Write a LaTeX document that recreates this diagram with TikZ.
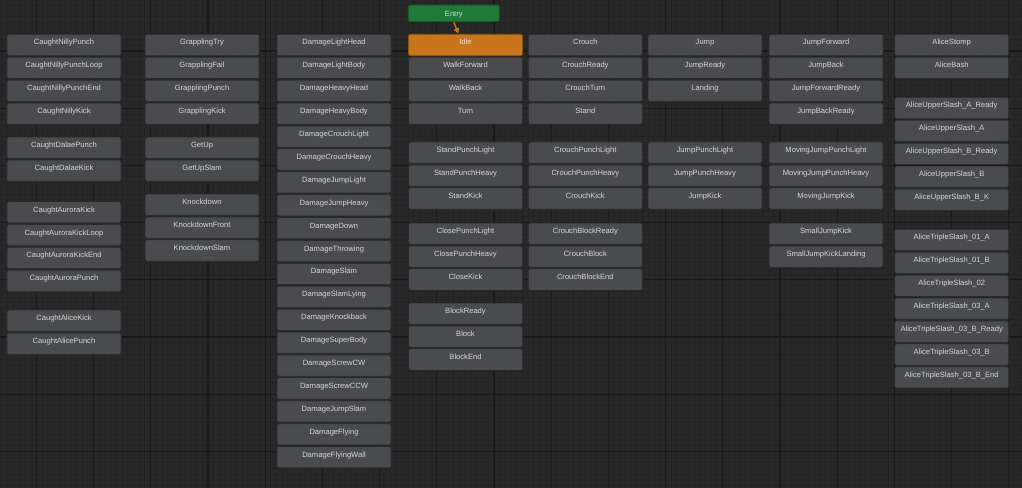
\documentclass[tikz,border=0pt]{standalone}
\usepackage{fontspec}
\setmainfont{Liberation Sans}
\usetikzlibrary{arrows.meta}
\definecolor{bgc}{HTML}{282828}
\definecolor{minorc}{HTML}{232323}
\definecolor{majorc}{HTML}{1A1A1A}
\definecolor{nodefill}{HTML}{4A4B4E}
\definecolor{nodeedge}{HTML}{2C2C2E}
\definecolor{nodetext}{HTML}{D6D6D6}
\definecolor{idlefill}{HTML}{C8761E}
\definecolor{idletext}{HTML}{F2E2D0}
\definecolor{entryfill}{HTML}{1E7B37}
\definecolor{entrytext}{HTML}{C4E4CA}
\definecolor{arrowc}{HTML}{C47A1A}
\begin{document}
\begin{tikzpicture}[x=0.75pt,y=-0.75pt,
  st/.style={draw=nodeedge, fill=nodefill, rounded corners=1.5pt, line width=0.6pt,
    minimum width=85.5pt, minimum height=16pt, inner sep=0pt, text=nodetext,
    font=\fontsize{5.7}{6}\selectfont, text height=5pt, text depth=5pt},
  idlestyle/.style={st, fill=idlefill, draw=idlefill!70!black, text=idletext},
  entrystyle/.style={draw=entryfill!70!black, fill=entryfill, rounded corners=1.5pt, line width=0.6pt,
    minimum width=68.25pt, minimum height=12.5pt, inner sep=0pt, text=entrytext,
    font=\fontsize{5.7}{6}\selectfont, text height=4.1pt, text depth=0pt},
  minorline/.style={draw=minorc, line width=0.75pt},
  majorline/.style={draw=majorc, line width=0.9pt}]
\fill[bgc] (0,0) rectangle (1022,488);
\useasboundingbox (0,0) rectangle (1022,488);
% grid
\foreach \x in {1.98,7.70,...,1022} \draw[minorline] (\x,0) -- (\x,488);
\foreach \y in {5.34,11.06,...,488} \draw[minorline] (0,\y) -- (1022,\y);
\foreach \x in {36.3,93.5,...,1022} \draw[majorline] (\x,0) -- (\x,488);
\foreach \y in {51.1,108.3,...,488} \draw[majorline] (0,\y) -- (1022,\y);

% column 1
\foreach[count=\i from 0] \t in {CaughtNillyPunch,CaughtNillyPunchLoop,CaughtNillyPunchEnd,CaughtNillyKick}
  \node[st] (ca\i) at (64,{45+\i*22.9}) {\t};
\foreach[count=\i from 0] \t in {CaughtDalaePunch,CaughtDalaeKick}
  \node[st] (cb\i) at (64,{147.7+\i*22.9}) {\t};
\foreach[count=\i from 0] \t in {CaughtAuroraKick,CaughtAuroraKickLoop,CaughtAuroraKickEnd,CaughtAuroraPunch}
  \node[st] (cc\i) at (64,{212.2+\i*22.9}) {\t};
\foreach[count=\i from 0] \t in {CaughtAliceKick,CaughtAlicePunch}
  \node[st] (cd\i) at (64,{320.7+\i*22.9}) {\t};

% column 2
\foreach[count=\i from 0] \t in {GrapplingTry,GrapplingFail,GrapplingPunch,GrapplingKick}
  \node[st] (ga\i) at (202,{45+\i*22.9}) {\t};
\foreach[count=\i from 0] \t in {GetUp,GetUpSlam}
  \node[st] (gb\i) at (202,{147.7+\i*22.9}) {\t};
\foreach[count=\i from 0] \t in {Knockdown,KnockdownFront,KnockdownSlam}
  \node[st] (gc\i) at (202,{204.7+\i*22.9}) {\t};

% column 3
\foreach[count=\i from 0] \t in {DamageLightHead,DamageLightBody,DamageHeavyHead,DamageHeavyBody,DamageCrouchLight,DamageCrouchHeavy,DamageJumpLight,DamageJumpHeavy,DamageDown,DamageThrowing,DamageSlam,DamageSlamLying,DamageKnockback,DamageSuperBody,DamageScrewCW,DamageScrewCCW,DamageJumpSlam,DamageFlying,DamageFlyingWall}
  \node[st] (da\i) at (334,{45+\i*22.9}) {\t};

% column 4
\node[entrystyle] (entry) at (453.8,13.35) {Entry};
\node[idlestyle] (idle) at (465.5,45) {Idle};
\foreach[count=\i from 1] \t in {WalkForward,WalkBack,Turn}
  \node[st] (ia\i) at (465.5,{45+\i*22.9}) {\t};
\foreach[count=\i from 0] \t in {StandPunchLight,StandPunchHeavy,StandKick}
  \node[st] (ib\i) at (465.5,{152.7+\i*22.9}) {\t};
\foreach[count=\i from 0] \t in {ClosePunchLight,ClosePunchHeavy,CloseKick}
  \node[st] (ic\i) at (465.5,{233.7+\i*22.9}) {\t};
\foreach[count=\i from 0] \t in {BlockReady,Block,BlockEnd}
  \node[st] (id\i) at (465.5,{313.7+\i*22.9}) {\t};
\coordinate (idletip) at (458.3,33.6);
\draw[arrowc, line width=1pt, -{Triangle[length=4pt,width=4pt]}] (entry.south) -- (idletip);

% column 5
\foreach[count=\i from 0] \t in {Crouch,CrouchReady,CrouchTurn,Stand}
  \node[st] (ra\i) at (585.3,{45+\i*22.9}) {\t};
\foreach[count=\i from 0] \t in {CrouchPunchLight,CrouchPunchHeavy,CrouchKick}
  \node[st] (rb\i) at (585.3,{152.7+\i*22.9}) {\t};
\foreach[count=\i from 0] \t in {CrouchBlockReady,CrouchBlock,CrouchBlockEnd}
  \node[st] (rc\i) at (585.3,{233.7+\i*22.9}) {\t};

% column 6
\foreach[count=\i from 0] \t in {Jump,JumpReady,Landing}
  \node[st] (ja\i) at (705,{45+\i*22.9}) {\t};
\foreach[count=\i from 0] \t in {JumpPunchLight,JumpPunchHeavy,JumpKick}
  \node[st] (jb\i) at (705,{152.7+\i*22.9}) {\t};

% column 7
\foreach[count=\i from 0] \t in {JumpForward,JumpBack,JumpForwardReady,JumpBackReady}
  \node[st] (fa\i) at (826,{45+\i*22.9}) {\t};
\foreach[count=\i from 0] \t in {MovingJumpPunchLight,MovingJumpPunchHeavy,MovingJumpKick}
  \node[st] (fb\i) at (826,{152.7+\i*22.9}) {\t};
\foreach[count=\i from 0] \t in {SmallJumpKick,SmallJumpKickLanding}
  \node[st] (fc\i) at (826,{233.7+\i*22.9}) {\t};

% column 8
\foreach[count=\i from 0] \t in {AliceStomp,AliceBash}
  \node[st] (aa\i) at (951.7,{45+\i*22.9}) {\t};
\foreach[count=\i from 0] \t in {AliceUpperSlash\_A\_Ready,AliceUpperSlash\_A,AliceUpperSlash\_B\_Ready,AliceUpperSlash\_B,AliceUpperSlash\_B\_K}
  \node[st] (ab\i) at (951.7,{108+\i*22.9}) {\t};
\foreach[count=\i from 0] \t in {AliceTripleSlash\_01\_A,AliceTripleSlash\_01\_B,AliceTripleSlash\_02,AliceTripleSlash\_03\_A,AliceTripleSlash\_03\_B\_Ready,AliceTripleSlash\_03\_B,AliceTripleSlash\_03\_B\_End}
  \node[st] (ac\i) at (951.7,{240+\i*22.9}) {\t};
\end{tikzpicture}
\end{document}
